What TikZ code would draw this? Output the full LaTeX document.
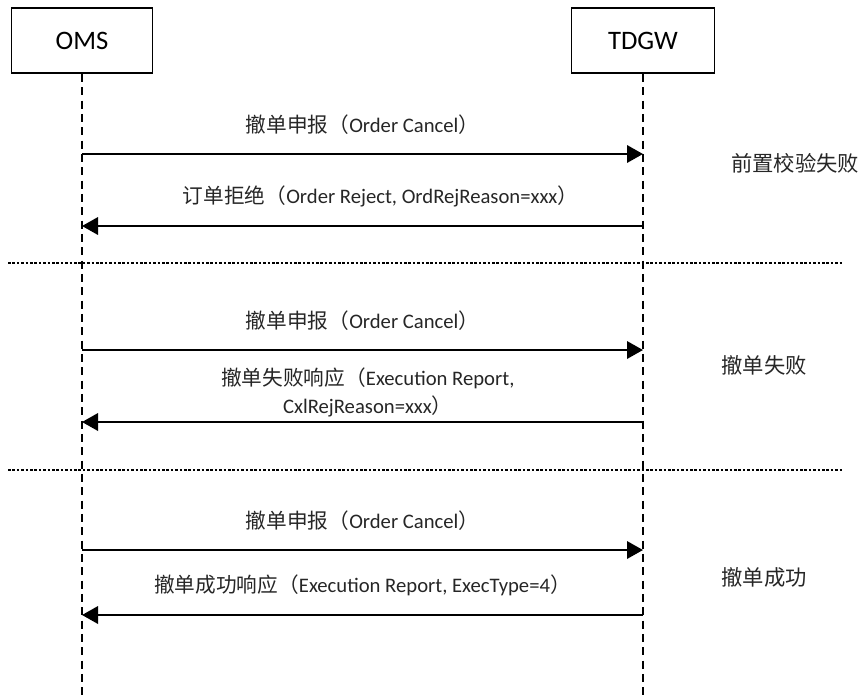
\documentclass[tikz,border=0pt]{standalone}
\usepackage{fontspec}
\setmainfont{Carlito}
\newfontfamily\cjk{Noto Sans CJK SC}
\usetikzlibrary{arrows.meta}
\newcommand{\zh}[1]{{\cjk #1}}

\tikzset{
  actor/.style={draw, line width=1.1pt, minimum width=106pt, minimum height=49pt, inner sep=0pt,
    font=\fontsize{20}{24}\selectfont},
  lifeline/.style={line width=0.8pt, dash pattern=on 6pt off 4pt},
  msgarrow/.style={line width=1.8pt, -{Triangle[length=12pt,width=13pt]}},
  msg/.style={font=\fontsize{15.5}{21}\selectfont, text=black!85, inner sep=0pt, align=center},
  phase/.style={font=\fontsize{16}{18}\selectfont, text=black!85, inner sep=0pt},
  divider/.style={line width=1.8pt, dash pattern=on 2pt off 1.3pt},
}

\begin{document}
\begin{tikzpicture}[x=0.75pt,y=-0.75pt]
\useasboundingbox (0,0) rectangle (867,697);

% actors
\node[actor] (oms) at (82,40.5) {OMS};
\node[actor, minimum width=107pt] (tdgw) at (643,40.5) {TDGW};

% lifelines
\coordinate (omsend) at (82,697);
\coordinate (tdgwend) at (643,697);
\draw[lifeline] (oms) -- (omsend);
\draw[lifeline] (tdgw) -- (tdgwend);

% message points on the lifelines
\foreach \y/\n in {154/1,226/2,350/3,422/4,550/5,615/6} {
  \coordinate (o\n) at (82,\y);
  \coordinate (t\n) at (643,\y);
}

% dividers
\coordinate (d1a) at (8,263);
\coordinate (d1b) at (843,263);
\coordinate (d2a) at (8,470);
\coordinate (d2b) at (843,470);
\draw[divider] (d1a) -- (d1b);
\draw[divider] (d2a) -- (d2b);

% messages
\draw[msgarrow] (o1) -- node[msg, yshift=22pt] (m1) {\zh{撤单申报（}Order Cancel\zh{）}} (t1);
\draw[msgarrow] (t2) -- node[msg, yshift=22pt, xshift=13.5pt] (m2) {\zh{订单拒绝（}Order Reject, OrdRejReason=xxx\zh{）}} (o2);
\draw[msgarrow] (o3) -- node[msg, yshift=22pt] (m3) {\zh{撤单申报（}Order Cancel\zh{）}} (t3);
\draw[msgarrow] (t4) -- node[msg, yshift=22pt, xshift=4pt] (m4) {\zh{撤单失败响应（}Execution Report,\\CxlRejReason=xxx\zh{）}} (o4);
\draw[msgarrow] (o5) -- node[msg, yshift=22pt] (m5) {\zh{撤单申报（}Order Cancel\zh{）}} (t5);
\draw[msgarrow] (t6) -- node[msg, yshift=22pt] (m6) {\zh{撤单成功响应（}Execution Report, ExecType=4\zh{）}} (o6);

% phases
\node[phase] (p1) at (795,163) {\zh{前置校验失败}};
\node[phase] (p2) at (764,365) {\zh{撤单失败}};
\node[phase] (p3) at (764,577) {\zh{撤单成功}};

\end{tikzpicture}
\end{document}
